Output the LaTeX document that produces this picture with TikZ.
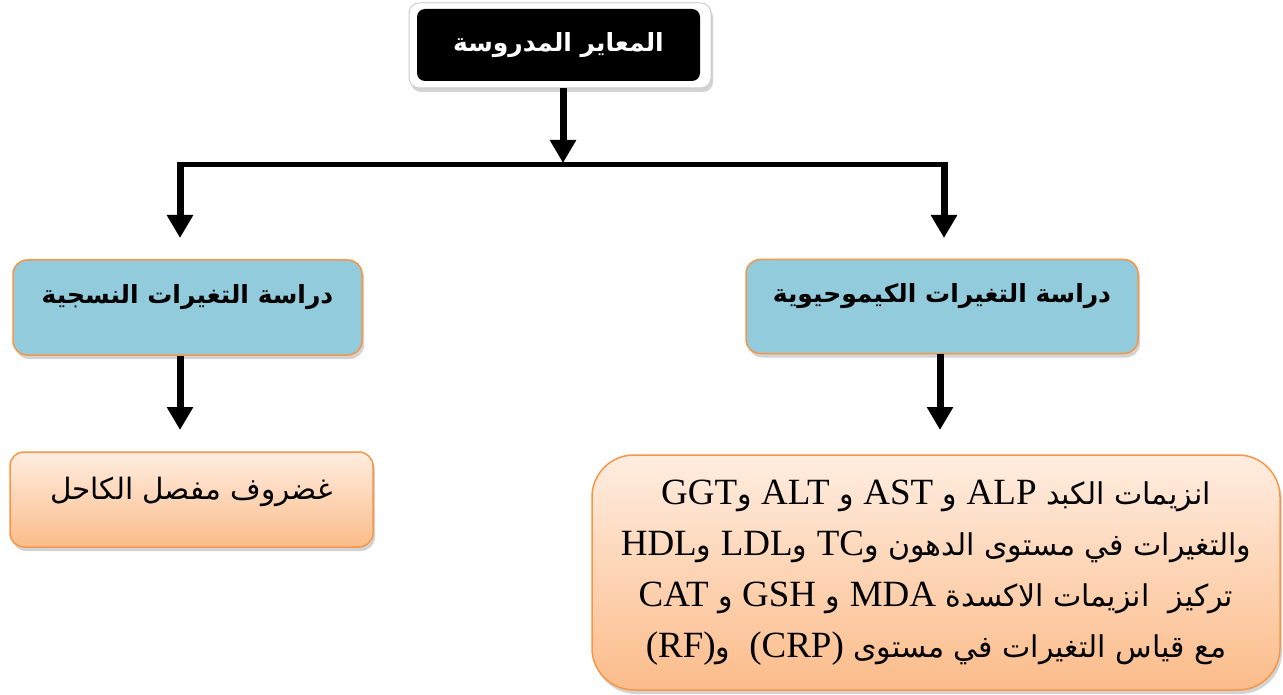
\documentclass[tikz,border=0pt]{standalone}
\usepackage{fontspec}
\usetikzlibrary{arrows.meta,shadows}
\TeXXeTstate=1
\newfontfamily\arabicfont[Script=Arabic]{DejaVu Sans}
\newfontfamily\latinfont{Liberation Serif}
\newcommand\La[1]{{\latinfont\fontsize{37}{51}\selectfont\beginL #1\endL}}
\definecolor{boxblue}{RGB}{146,203,220}
\definecolor{boxorange}{RGB}{247,150,70}
\definecolor{peachtop}{RGB}{255,237,224}
\definecolor{peachbot}{RGB}{251,188,138}
\tikzset{
  shad/.style={drop shadow={opacity=0.35, shadow xshift=2pt, shadow yshift=-4pt}},
  midbox/.style={draw=boxorange, line width=1.5pt, fill=boxblue, rounded corners=14pt, shad,
    inner sep=0pt, font=\arabicfont\bfseries\fontsize{25}{30}\selectfont, text depth=27pt},
  peachbox/.style={draw=boxorange, line width=1.5pt, top color=peachtop, bottom color=peachbot,
    shad, inner sep=0pt},
  conn/.style={line width=7pt, -{Triangle[width=25pt,length=23pt]}},
  hline/.style={line width=5pt},
}
\begin{document}
\begin{tikzpicture}[x=1pt,y=-1pt]
\useasboundingbox (0,0) rectangle (1283,695);
% top box
\node[draw=gray!40, line width=1pt, fill=white, rounded corners=10pt, shad,
  minimum width=302pt, minimum height=85pt, inner sep=0pt] (topouter) at (560,45.5) {};
\node[fill=black, rounded corners=8pt, minimum width=283pt, minimum height=72pt, inner sep=0pt,
  text=white, font=\arabicfont\bfseries\fontsize{25}{28}\selectfont] (top) at (558.5,45)
  {\beginR المعاير المدروسة\endR};
% middle boxes
\node[midbox, minimum width=349pt, minimum height=95pt] (left) at (187.5,307.5)
  {\beginR دراسة التغيرات النسجية\endR};
\node[midbox, minimum width=392pt, minimum height=94pt] (right) at (942,306.5)
  {\beginR دراسة التغيرات الكيموحيوية\endR};
% bottom boxes
\node[peachbox, rounded corners=14pt, minimum width=363pt, minimum height=95pt,
  font=\arabicfont\fontsize{29.5}{32}\selectfont, text depth=22pt] (cart) at (191.5,499.5)
  {\beginR غضروف مفصل الكاحل\endR};
\node[peachbox, rounded corners=42pt, minimum width=688pt, minimum height=235pt, align=center,
  font=\arabicfont\fontsize{30}{51}\selectfont] (bio) at (936,572.5)
  {\beginR انزيمات الكبد \La{ALP} و \La{AST} و \La{ALT} و\La{GGT}\endR\\
   \beginR والتغيرات في مستوى الدهون و\La{TC} و\La{LDL} و\La{HDL}\endR\\
   \beginR تركيز\ \ انزيمات الاكسدة \La{MDA} و \La{GSH} و \La{CAT}\endR\\
   \beginR مع قياس التغيرات في مستوى \La{(CRP)}\ \ و\La{(RF)}\endR};
% connectors
\coordinate (jt) at (563,163);
\coordinate (jl) at (180,165);
\coordinate (jr) at (944,165);
\coordinate (al) at (180,238);
\coordinate (ar) at (944,238);
\coordinate (bl) at (180,430);
\coordinate (br) at (940,430);
\draw[conn] (topouter.south -| jt) -- (jt);
\draw[hline, shorten <=-3.5pt, shorten >=-3.5pt] (jl) -- (jr);
\draw[conn] (jl) -- (al);
\draw[conn] (jr) -- (ar);
\draw[conn] (left.south -| bl) -- (bl);
\draw[conn] (right.south -| br) -- (br);
\end{tikzpicture}
\end{document}
